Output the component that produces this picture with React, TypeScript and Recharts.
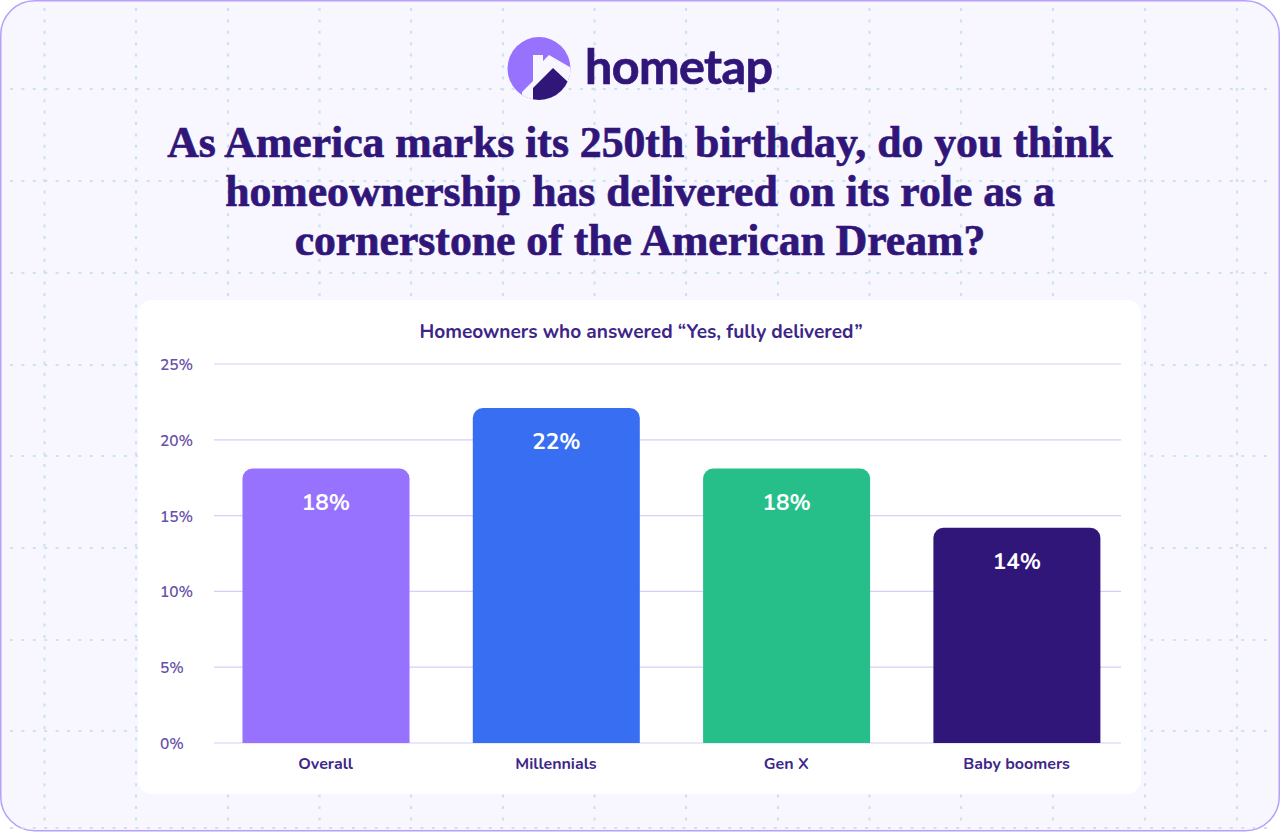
import React from "react";
import { BarChart, Bar, XAxis, YAxis, CartesianGrid, LabelList, Cell } from "recharts";

const categories = ["Overall", "Millennials", "Gen X", "Baby boomers"];
const shares = [18.1, 22.1, 18.1, 14.2];
const barColors = ["#9672FF", "#386FF2", "#26BF8A", "#301679"];
const yTicks = [0, 5, 10, 15, 20, 25];
const titleLines = [
  "As America marks its 250th birthday, do you think",
  "homeownership has delivered on its role as a",
  "cornerstone of the American Dream?",
];
const chartTitle = "Homeowners who answered “Yes, fully delivered”";

const rows = categories.map((name, i) => ({ name, share: shares[i] }));

const SANS = "Nunito, Mulish, Lato, 'Noto Sans', sans-serif";
const INK = "#301679";

const vGrid = [44.5, 136, 228, 319.5, 411, 503, 594.5, 686, 778, 869.5, 961, 1053, 1145, 1237];
const hGrid = [89, 181, 273, 365, 456, 548, 640, 731, 828];

function Backdrop() {
  return (
    <svg width={1280} height={832} style={{ position: "absolute", left: 0, top: 0 }}>
      <rect x={0.75} y={0.75} width={1278.5} height={830} rx={34} fill="#F8F7FF" stroke="#B6A0FA" strokeWidth={1.5} />
      {vGrid.map((x) => (
        <line key={x} x1={x} x2={x} y1={8} y2={824} stroke="#CDE2EE" strokeWidth={2.2} strokeDasharray="3 8.4" />
      ))}
      {hGrid.map((y) => (
        <line key={y} x1={10} x2={1270} y1={y} y2={y} stroke="#CDE2EE" strokeWidth={2.2} strokeDasharray="3 8.4" />
      ))}
    </svg>
  );
}

function Logo() {
  return (
    <svg width={320} height={90} viewBox="480 20 320 90" style={{ position: "absolute", left: 480, top: 20 }}>
      <defs>
        <clipPath id="logoDisc">
          <circle cx={539} cy={68.5} r={31.5} />
        </clipPath>
      </defs>
      <g clipPath="url(#logoDisc)">
        <rect x={500} y={30} width={80} height={80} fill="#9672FF" />
        <path
          d="M522 101 L522 92 L533 81 L533 55 L543 55 L543 61 L549 55 L575 70 L575 101 Z"
          fill="#F8F7FF"
        />
        <path d="M533 101 L533 88 L553 68 L568 82 L568 101 Z" fill={INK} />
      </g>
      <text
        x={585}
        y={84}
        fontFamily="Lato, sans-serif"
        fontWeight={700}
        fontSize={48.5}
        letterSpacing={-0.6}
        fill={INK}
        stroke={INK}
        strokeWidth={0.7}
      >
        hometap
      </text>
    </svg>
  );
}

function YTick({ y, payload }: any) {
  return (
    <text x={22} y={y + 6} fontFamily={SANS} fontSize={15.5} fontWeight={600} fill="#6750A8">
      {payload.value}%
    </text>
  );
}

export default function App() {
  return (
    <div style={{ position: "fixed", left: 0, top: 0, width: 1280, height: 832, background: "#fff", overflow: "hidden" }}>
      <Backdrop />
      <Logo />
      <div
        style={{
          position: "absolute",
          left: 0,
          width: 1280,
          top: 118,
          textAlign: "center",
          fontFamily: "'Liberation Serif', serif",
          fontWeight: 700,
          fontSize: 43.7,
          lineHeight: "49px",
          color: INK,
          WebkitTextStroke: `0.7px ${INK}`,
        }}
      >
        {titleLines.map((l) => (
          <div key={l}>{l}</div>
        ))}
      </div>
      <div
        style={{
          position: "absolute",
          left: 138,
          top: 300,
          width: 1003,
          height: 494,
          background: "#fff",
          borderRadius: 14,
        }}
      >
        <div
          style={{
            position: "absolute",
            left: 0,
            width: 1006,
            top: 20,
            textAlign: "center",
            fontFamily: SANS,
            fontWeight: 700,
            fontSize: 19.1,
            lineHeight: "24px",
            color: "#3D2688",
          }}
        >
          {chartTitle}
        </div>
        <BarChart
          width={1003}
          height={494}
          data={rows}
          margin={{ top: 64, right: 20, bottom: 21, left: 0 }}
          style={{ position: "absolute", left: 0, top: 0 }}
        >
          <CartesianGrid horizontal vertical={false} stroke="#D6CEF8" strokeWidth={1.2} />
          <XAxis
            dataKey="name"
            height={30}
            axisLine={false}
            tickLine={false}
            interval={0}
            padding={{ left: -3.5, right: -10.7 }}
            tickMargin={9}
            tick={{ fontFamily: SANS, fontSize: 16, fontWeight: 700, fill: "#3D2688" }}
          />
          <YAxis
            type="number"
            domain={[0, 25]}
            ticks={yTicks}
            width={76}
            axisLine={false}
            tickLine={false}
            tick={<YTick />}
          />
          <Bar dataKey="share" barSize={167} radius={[10, 10, 0, 0]} isAnimationActive={false}>
            {rows.map((r, i) => (
              <Cell key={r.name} fill={barColors[i]} />
            ))}
            <LabelList
              dataKey="share"
              position="insideTop"
              offset={25}
              formatter={(v: number) => `${Math.round(v)}%`}
              style={{ fontFamily: SANS, fontSize: 22.5, fontWeight: 700, fill: "#fff" }}
            />
          </Bar>
        </BarChart>
      </div>
    </div>
  );
}
